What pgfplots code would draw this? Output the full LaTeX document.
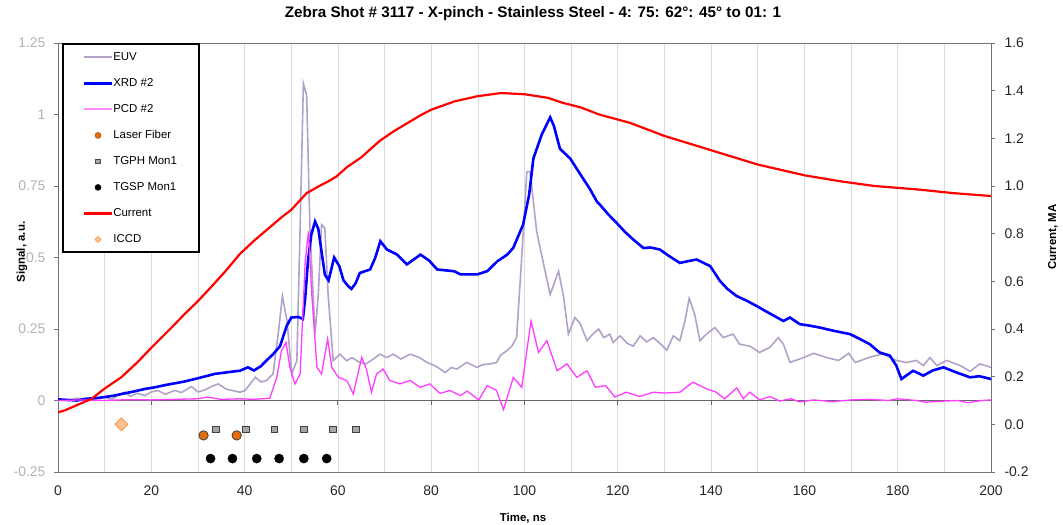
\documentclass[border=0pt]{standalone}
\usepackage{pgfplots}
\pgfplotsset{compat=1.18}
\usepackage{fontspec}
\setmainfont{Liberation Sans}
\definecolor{euv}{RGB}{178,162,199}
\definecolor{xrd}{RGB}{0,0,255}
\definecolor{pcd}{RGB}{255,60,255}
\definecolor{pcdl}{RGB}{255,140,255}
\definecolor{cur}{RGB}{255,0,0}
\definecolor{laser}{RGB}{228,108,10}
\definecolor{tgph}{RGB}{166,166,166}
\definecolor{iccdf}{RGB}{250,192,144}
\definecolor{iccdd}{RGB}{247,150,70}
\newcommand{\tickfont}{\fontsize{14}{16}\selectfont}
\newcommand{\legfont}{\fontsize{11.5}{13}\selectfont}
\newcommand{\labfont}{\fontsize{11.5}{13}\selectfont\bfseries}
\begin{document}
\begin{tikzpicture}
\path[use as bounding box] (0,0) rectangle (1063bp,525bp);
\begin{axis}[
  at={(58bp,53bp)}, anchor=south west,
  width=933bp, height=429bp, scale only axis,
  xmin=0, xmax=200, ymin=-0.25, ymax=1.25,
  xtick={0,20,...,200}, minor xtick={10,30,...,190},
  xmajorgrids, xminorgrids,
  major grid style={draw=black!14, line width=0.7bp},
  minor grid style={draw=black!14, line width=0.7bp},
  ytick={-0.25,0,0.25,0.5,0.75,1,1.25},
  ytick pos=left, xtick pos=bottom,
  tick align=outside, major tick length=4bp, minor tick length=0bp,
  xtick style={draw=none},
  ytick style={draw=black!55, line width=0.8bp},
  axis line style={draw=black!55, line width=0.8bp},
  /pgf/number format/assume math mode=true,
  xticklabel style={font=\tickfont, text=black!85, yshift=-6bp},
  yticklabel style={font=\tickfont, text=black!30, xshift=-5bp},
]
\draw[black!60, line width=1bp] (axis cs:0,0) -- (axis cs:200,0);
\pgfplotsinvokeforeach{20,40,...,180}{\draw[black!60, line width=1bp] (axis cs:#1,0) -- ([yshift=-5bp]axis cs:#1,0);}
% EUV
\addplot[euv, line width=1.6bp] table {
0 0.005
2 0.000
4 0.008
6 -0.002
8 0.006
10 0.012
11.5 0.004
13 0.02
14.3 0.029
15.5 0.015
17 0.025
18.6 0.017
20 0.03
21.4 0.035
23 0.022
25 0.035
26.5 0.028
28.6 0.049
30 0.03
31.5 0.037
33 0.05
34.4 0.058
36 0.04
37.3 0.035
39 0.029
40.1 0.035
41.3 0.06
42.3 0.081
43.5 0.065
44.7 0.07
46.1 0.093
47.2 0.232
48.1 0.365
49.1 0.278
50.1 0.093
51.2 0.139
51.9 0.603
52.6 1.108
53.3 1.067
54.0 0.603
55.1 0.232
55.8 0.371
56.5 0.615
57.2 0.603
57.9 0.371
59 0.139
60.4 0.162
61.9 0.139
63 0.15
64.7 0.133
66 0.128
67.6 0.145
69 0.162
70.5 0.15
71.9 0.162
73.5 0.145
75.5 0.162
77.5 0.15
79.1 0.133
81 0.12
83 0.098
84.3 0.115
85.5 0.11
87.6 0.133
89.8 0.116
91 0.125
92.6 0.128
94 0.133
94.8 0.157
96.2 0.174
97.3 0.19
98.3 0.22
99.4 0.499
100.5 0.80
101.2 0.80
102.6 0.592
104.1 0.476
105.5 0.371
107.3 0.452
108.4 0.36
109.4 0.232
110.8 0.29
111.9 0.27
113.4 0.209
114.5 0.23
115.9 0.25
117 0.22
118.3 0.232
119 0.203
120.5 0.226
122 0.2
123.3 0.19
124.8 0.226
126.2 0.205
127.6 0.22
129 0.2
130.5 0.176
131.9 0.226
133.3 0.209
134.4 0.278
135.3 0.357
136.5 0.30
137.6 0.209
139 0.232
140.8 0.255
142.6 0.22
144.7 0.232
146.1 0.197
148.3 0.19
150.4 0.168
152.6 0.186
154.4 0.22
155.5 0.197
156.9 0.133
159.8 0.15
162 0.165
164.8 0.15
167.3 0.14
169.5 0.165
170.9 0.133
174.1 0.152
176.9 0.163
179.7 0.14
181.8 0.133
184 0.14
185.5 0.122
186.9 0.15
188.4 0.122
190.5 0.14
193.4 0.122
195.5 0.102
197.6 0.128
200 0.116
};
% XRD #2
\addplot[xrd, line width=2.6bp] table {
0 0.004
2 0.002
4 0.0
6 0.006
8 0.008
10 0.012
12 0.017
14 0.024
16.4 0.032
18.5 0.04
20.7 0.046
23 0.054
25 0.06
27 0.066
29.3 0.075
31.5 0.084
33.6 0.093
36 0.098
37.9 0.102
39 0.104
40.7 0.116
42 0.105
43.5 0.12
44.7 0.14
46 0.16
47.6 0.19
49 0.26
50 0.29
51.5 0.292
52.5 0.285
53 0.36
53.6 0.49
54.3 0.58
55.1 0.626
55.8 0.60
56.5 0.52
57.2 0.44
58 0.42
58.6 0.46
59.2 0.50
60.3 0.47
61.2 0.42
62.2 0.40
62.9 0.39
63.8 0.41
64.7 0.446
66.9 0.458
68 0.499
69.1 0.557
70.5 0.528
72.7 0.51
74.8 0.476
77.7 0.51
79.5 0.49
81.3 0.458
84.9 0.452
86.3 0.441
89.9 0.441
92 0.452
94.2 0.487
96.3 0.51
97.6 0.534
99.7 0.615
101 0.72
101.9 0.846
103.7 0.93
105.5 0.99
106.3 0.96
107.6 0.88
109.8 0.846
112 0.79
114 0.74
115.5 0.696
116.2 0.684
118 0.65
119.8 0.62
121.5 0.59
123.3 0.563
125.5 0.533
127 0.535
129 0.528
131 0.505
133.3 0.481
135 0.487
136.9 0.493
138.5 0.48
139.8 0.47
141.9 0.418
143.5 0.39
145.5 0.365
147.5 0.35
149.8 0.33
152.5 0.305
155.5 0.278
156.9 0.29
159 0.267
161 0.262
163.3 0.255
166.2 0.244
169.8 0.232
171.9 0.215
174 0.197
176.1 0.168
178.3 0.157
179.7 0.122
180.8 0.075
183.3 0.104
185.5 0.087
187.5 0.105
189.8 0.116
192.6 0.098
195.5 0.081
197.5 0.085
200 0.075
};
% PCD #2
\addplot[pcd, line width=1.3bp] table {
0 0.0
5 0.002
10 0.0
15 0.003
20 0.002
25 0.004
30 0.006
32 0.012
35 0.004
39 0.006
42 0.004
45.4 0.008
46.9 0.081
47.9 0.174
48.9 0.203
49.7 0.116
50.8 0.058
51.9 0.093
53 0.487
53.7 0.592
54.4 0.371
55.5 0.116
56.5 0.093
57.8 0.215
58.7 0.116
60.1 0.081
61.9 0.07
63.3 0.023
64.1 0.08
65.1 0.151
66.1 0.11
67.2 0.029
68.3 0.093
69.7 0.11
71.1 0.07
73.3 0.058
75.5 0.07
77.6 0.046
79.7 0.058
81.9 0.025
84 0.035
86.3 0.017
87.7 0.033
90.2 0.002
92 0.052
94 0.035
95.5 -0.032
97.6 0.081
99.4 0.046
101.4 0.278
103 0.168
104.8 0.209
107 0.104
109.1 0.128
111.2 0.081
113.4 0.104
115.2 0.046
117.4 0.052
119.4 0.012
121.8 0.029
124.7 0.014
127.6 0.029
130 0.026
133.3 0.029
136.1 0.064
139 0.041
141.1 0.029
142.9 0.006
145.5 0.044
146.9 0.006
148.3 0.029
150.4 0.002
152.6 0.014
154.7 -0.002
157.1 0.006
159 -0.005
162 0.002
166 -0.004
170 0.002
174 0.004
178 0.0
180 0.006
184 0.0
186 -0.006
190 -0.002
193 0.0
195 -0.008
198 0.0
200 0.002
};
% Laser Fiber
\addplot[only marks, mark=*, mark size=4.7bp, mark options={fill=laser, draw=black!75, line width=0.8bp}] table {
31.2 -0.122
38.3 -0.122
};
% TGPH Mon1
\addplot[only marks, mark=square*, mark size=3.3bp, mark options={fill=tgph, draw=black!75, line width=0.8bp}] table {
33.9 -0.101
40.3 -0.101
46.4 -0.101
52.7 -0.101
58.9 -0.101
63.9 -0.101
};
% TGSP Mon1
\addplot[only marks, mark=*, mark size=4.6bp, mark options={fill=black, draw=black}] table {
32.7 -0.203
37.4 -0.203
42.6 -0.203
47.4 -0.203
52.7 -0.203
57.6 -0.203
};
\end{axis}
\begin{axis}[
  at={(58bp,53bp)}, anchor=south west,
  width=933bp, height=429bp, scale only axis,
  xmin=0, xmax=200, ymin=-0.2, ymax=1.6,
  hide x axis, axis y line*=right,
  ytick={-0.2,0,0.2,0.4,0.6,0.8,1.0,1.2,1.4,1.6},
  tick align=outside, major tick length=4bp,
  ytick style={draw=black!55, line width=0.8bp},
  axis line style={draw=black!55, line width=0.8bp},
  /pgf/number format/assume math mode=true,
  yticklabel style={font=\tickfont, text=black!85, xshift=6bp,
    /pgf/number format/fixed, /pgf/number format/fixed zerofill, /pgf/number format/precision=1},
  legend style={at={(axis description cs:0.004,0.999)}, anchor=north west,
    draw=black, line width=2bp, fill=white, font=\legfont,
    inner xsep=20bp, inner ysep=5bp, row sep=10bp,
    nodes={text height=9bp, text depth=3bp, inner ysep=2bp, inner xsep=0bp}},
  legend cell align=left,
  legend image code/.code={\draw[mark repeat=2,mark phase=2,#1] plot coordinates {(0bp,0bp) (14bp,0bp) (28bp,0bp)};},
]
\addlegendimage{draw=euv, line width=2bp}
\addlegendentry{\makebox[66bp][l]{EUV}}
\addlegendimage{draw=xrd, line width=2.6bp}
\addlegendentry{\makebox[66bp][l]{XRD \#2}}
\addlegendimage{draw=pcdl, line width=2bp}
\addlegendentry{\makebox[66bp][l]{PCD \#2}}
\addlegendimage{only marks, mark=*, mark size=3bp, mark options={fill=laser, draw=laser!70!black, line width=0.5bp}}
\addlegendentry{\makebox[66bp][l]{Laser Fiber}}
\addlegendimage{only marks, mark=square*, mark size=2.3bp, mark options={fill=tgph, draw=black!70, line width=0.5bp}}
\addlegendentry{\makebox[66bp][l]{TGPH Mon1}}
\addlegendimage{only marks, mark=*, mark size=3bp, mark options={fill=black, draw=black, line width=0.5bp}}
\addlegendentry{\makebox[66bp][l]{TGSP Mon1}}
\addlegendimage{draw=cur, line width=2.2bp}
\addlegendentry{\makebox[66bp][l]{Current}}
\addlegendimage{only marks, mark=square*, mark size=2.2bp, mark options={rotate=45, fill=iccdf, draw=iccdd, line width=0.5bp}}
\addlegendentry{\makebox[66bp][l]{ICCD}}
% Current
\addplot[cur, line width=2.2bp, forget plot] table {
0 0.05
1.5 0.059
4 0.08
7.2 0.107
10 0.15
13.6 0.198
17 0.26
20.1 0.323
24.4 0.407
27 0.46
30.1 0.519
33 0.58
36 0.645
39 0.715
42 0.77
45 0.82
48 0.87
50 0.90
53.3 0.97
56 1.0
58 1.02
59.7 1.04
62 1.08
65 1.12
69 1.19
72 1.23
75 1.265
78 1.30
80 1.32
85 1.355
90 1.377
95 1.39
100 1.385
105 1.37
108 1.35
112 1.33
116 1.30
122.6 1.265
130 1.21
140 1.15
150 1.09
160 1.045
167.6 1.02
175 1.0
184 0.986
192 0.97
200 0.958
};
% ICCD
\addplot[only marks, mark=square*, mark size=4.6bp, mark options={rotate=45, fill=iccdf, draw=iccdd, line width=0.8bp}, forget plot] table {
13.6 0.0
};
\end{axis}
\node[font=\fontsize{15.3}{17}\selectfont\bfseries] at (533bp,511bp) {Zebra Shot \# 3117 - X-pinch - Stainless Steel - 4: 75: 62°: 45° to 01: 1};
\node[font=\labfont, rotate=90] at (22bp,273bp) {Signal, a.u.};
\node[font=\labfont, rotate=90] at (1053bp,288bp) {Current, MA};
\node[font=\labfont] at (523bp,7bp) {Time, ns};
\end{tikzpicture}
\end{document}
